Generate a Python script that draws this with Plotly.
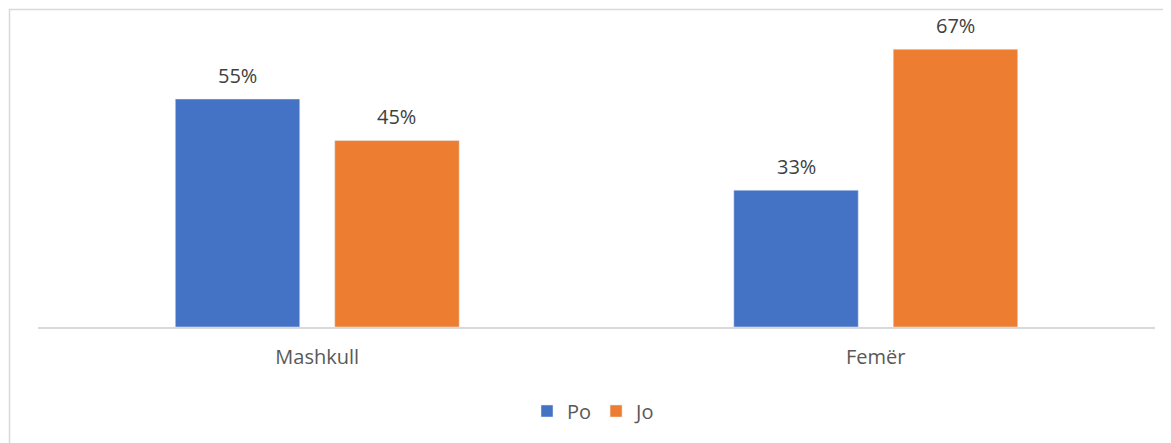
import plotly.graph_objects as go

categories = ["Mashkull", "Femër"]
po_values = [55, 33]
jo_values = [45, 67]
series_names = ["Po", "Jo"]

# page has an 8px body margin; work in figure coordinates (screen - 8)
OFF = 8
W, H = 1171 - OFF, 443 - OFF
L, R, T = 38 - OFF, 1171 - 1155, 20 - OFF
B = H - (327 - OFF)
pw = W - L - R
ph = H - T - B
FONT = "'Open Sans', sans-serif"
FS = 20

fig = go.Figure()
fig.add_trace(go.Bar(name=series_names[0], x=categories, y=po_values, marker_color="#4472C4"))
fig.add_trace(go.Bar(name=series_names[1], x=categories, y=jo_values, marker_color="#ED7D31"))

bargap = 0.429
bgg = 0.2194
slot_px = (1 - bargap) / 2 * pw / 2
for vals, sign in ((po_values, -1), (jo_values, 1)):
    for c, v in zip(categories, vals):
        fig.add_annotation(x=c, y=v, text=f"{v}%", showarrow=False, xshift=sign * slot_px / 2,
                           yshift=24, font=dict(size=FS, color="#404040", family=FONT))

def px_x(p):
    return (p - OFF - L) / pw
def px_y(p):
    return (H - B - (p - OFF)) / ph

fig.add_shape(type="line", xref="paper", yref="paper", x0=px_x(9), x1=px_x(1175), y0=px_y(9.5), y1=px_y(9.5),
              line=dict(color="#d9d9d9", width=1.5))
fig.add_shape(type="line", xref="paper", yref="paper", x0=px_x(9.5), x1=px_x(9.5), y0=px_y(9), y1=px_y(445),
              line=dict(color="#d9d9d9", width=1.5))

fig.update_layout(
    width=W, height=H,
    margin=dict(l=L, r=R, t=T, b=B),
    barmode="group", bargap=bargap, bargroupgap=bgg,
    plot_bgcolor="white", paper_bgcolor="white",
    font=dict(family=FONT, size=FS, color="#595959"),
    showlegend=True,
    legend=dict(orientation="h", x=px_x(594), xanchor="center", y=px_y(411), yanchor="middle",
                font=dict(size=FS, color="#595959"), itemwidth=30, tracegroupgap=0),
    xaxis=dict(showline=True, linecolor="#d9d9d9", linewidth=1.5, ticks="", showgrid=False,
               ticklabelstandoff=11, tickfont=dict(size=FS, color="#595959")),
    yaxis=dict(range=[0, ph / (228 / 55)], visible=False, showgrid=False, zeroline=False),
)

fig.write_html("out.html")
